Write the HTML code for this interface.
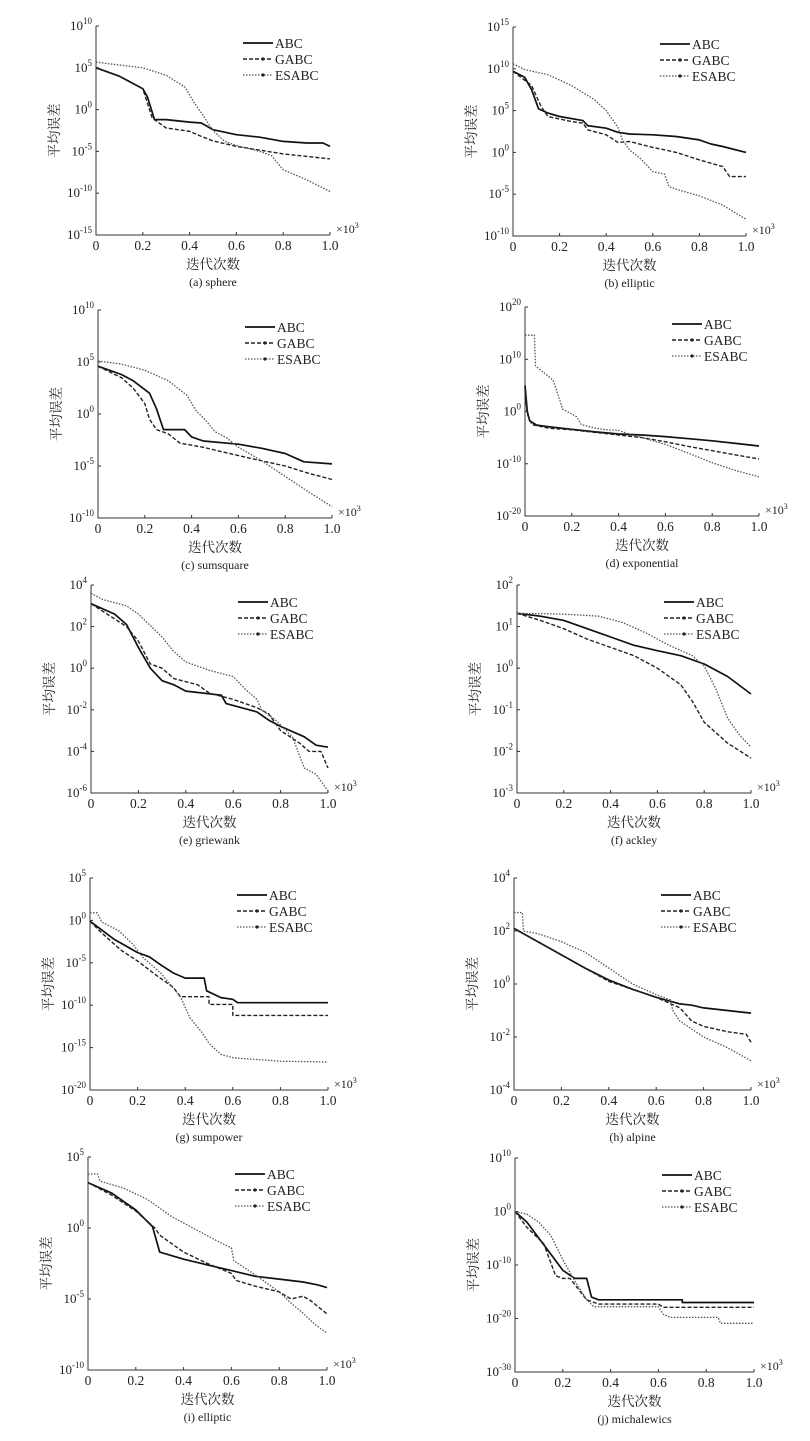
<!DOCTYPE html>
<html><head><meta charset="utf-8">
<style>
html,body{margin:0;padding:0;background:#fff;}
#wrap{position:relative;width:810px;height:1441px;overflow:hidden;}
svg{position:absolute;left:0;top:0;}
text{font-family:"Liberation Serif","Noto Serif CJK SC",serif;fill:#222;}
</style></head>
<body>
<div id="wrap">
<svg id="fig" width="810" height="1441" viewBox="0 0 810 1441"></svg>
</div>
<script>
// ---- data (x in ×10^3 iterations, y as log10 of mean error) ----
const seriesNames = ["ABC","GABC","ESABC"];
const captions = ["(a) sphere","(b) elliptic","(c) sumsquare","(d) exponential","(e) griewank","(f) ackley","(g) sumpower","(h) alpine","(i) elliptic","(j) michalewics"];
const yTickExp = [[10,5,0,-5,-10,-15],[15,10,5,0,-5,-10],[10,5,0,-5,-10],[20,10,0,-10,-20],[4,2,0,-2,-4,-6],[2,1,0,-1,-2,-3],[5,0,-5,-10,-15,-20],[4,2,0,-2,-4],[5,0,-5,-10],[10,0,-10,-20,-30]];
const xTicks = ["0","0.2","0.4","0.6","0.8","1.0"];

const aX_ABC=[0,0.1,0.2,0.22,0.25,0.3,0.4,0.45,0.5,0.6,0.7,0.8,0.9,0.97,1];
const aY_ABC=[5,4,2.5,1.5,-1.2,-1.2,-1.5,-1.6,-2.4,-3,-3.3,-3.8,-4,-4,-4.4];
const aX_GABC=[0,0.1,0.2,0.24,0.26,0.3,0.4,0.45,0.5,0.6,0.8,1];
const aY_GABC=[5,4,2.5,-1,-1.4,-2.2,-2.6,-3.2,-3.75,-4.4,-5.3,-5.9];
const aX_ES=[0,0.05,0.2,0.3,0.38,0.42,0.45,0.5,0.55,0.6,0.7,0.75,0.8,0.9,1];
const aY_ES=[5.7,5.5,5,4.1,2.7,0.8,-0.4,-2.5,-3.8,-4.3,-5,-5.5,-7.2,-8.4,-9.8];

const bX_ABC=[0,0.05,0.08,0.11,0.15,0.2,0.3,0.32,0.4,0.45,0.5,0.6,0.7,0.8,0.85,0.9,1];
const bY_ABC=[9.7,9,7.5,5.2,4.7,4.3,3.8,3.2,2.9,2.4,2.2,2.1,1.9,1.5,1.0,0.7,0];
const bX_GABC=[0,0.08,0.12,0.15,0.25,0.3,0.32,0.4,0.45,0.5,0.6,0.7,0.8,0.9,0.93,1];
const bY_GABC=[9.7,8,5.5,4.3,3.7,3.5,2.7,2.1,1.2,1.3,0.6,0,-0.9,-1.7,-2.9,-2.9];
const bX_ES=[0,0.05,0.15,0.25,0.35,0.4,0.45,0.47,0.5,0.55,0.6,0.65,0.67,0.7,0.8,0.9,1];
const bY_ES=[10.6,9.9,9.3,8,6.3,5,3,1.5,0.3,-0.8,-2.3,-2.6,-4.1,-4.4,-5.2,-6.3,-8];

const cX_ABC=[0,0.1,0.15,0.22,0.25,0.28,0.37,0.4,0.45,0.6,0.7,0.8,0.88,1];
const cY_ABC=[4.6,3.8,3.2,2,0.5,-1.5,-1.5,-2.2,-2.6,-2.9,-3.3,-3.8,-4.6,-4.8];
const cX_GABC=[0,0.1,0.15,0.2,0.22,0.25,0.3,0.35,0.45,0.6,0.7,0.8,0.9,1];
const cY_GABC=[4.6,3.5,2.5,1,-0.5,-1.5,-1.9,-2.8,-3.2,-4,-4.5,-5,-5.7,-6.3];
const cX_ES=[0,0.1,0.2,0.3,0.38,0.42,0.46,0.5,0.55,0.6,0.7,0.8,0.9,1];
const cY_ES=[5.1,4.8,4.2,3.2,1.8,0.3,-0.6,-1.7,-2.3,-3.2,-4.5,-6,-7.5,-8.9];

const dX_ABC=[0,0.01,0.02,0.05,0.1,0.2,0.3,0.4,0.5,0.6,0.7,0.8,0.9,1];
const dY_ABC=[5,0,-1.8,-2.6,-2.9,-3.4,-3.9,-4.3,-4.5,-4.8,-5.2,-5.6,-6.1,-6.6];
const dX_GABC=[0,0.01,0.03,0.1,0.2,0.3,0.4,0.5,0.6,0.7,0.8,0.9,1];
const dY_GABC=[4,-0.5,-2.5,-3.2,-3.5,-4,-4.5,-5,-5.8,-6.7,-7.5,-8.3,-9.1];
const dX_ES=[0,0.04,0.045,0.12,0.15,0.16,0.22,0.24,0.3,0.35,0.4,0.45,0.5,0.6,0.7,0.8,0.9,1];
const dY_ES=[14.6,14.6,8.7,6,2,0.5,-1,-2.5,-3.2,-3.5,-3.6,-4.4,-5,-6.3,-8,-9.8,-11.3,-12.5];

const eX_ABC=[0,0.1,0.15,0.2,0.25,0.3,0.35,0.4,0.55,0.57,0.7,0.75,0.8,0.9,0.95,1];
const eY_ABC=[3.1,2.6,2.1,1.0,0,-0.6,-0.8,-1.1,-1.3,-1.7,-2.1,-2.5,-2.8,-3.3,-3.7,-3.8];
const eX_GABC=[0,0.15,0.2,0.25,0.3,0.35,0.45,0.5,0.6,0.7,0.75,0.8,0.88,0.92,0.97,1];
const eY_GABC=[3.1,2,1.3,0.2,0,-0.5,-0.8,-1.2,-1.5,-1.9,-2.2,-3,-3.6,-4,-4,-4.8];
const eX_ES=[0,0.05,0.15,0.2,0.3,0.35,0.4,0.5,0.6,0.65,0.7,0.72,0.78,0.85,0.9,0.95,1];
const eY_ES=[3.6,3.3,3,2.6,1.5,0.8,0.3,-0.1,-0.4,-1,-1.5,-2,-2.5,-3.3,-4.8,-5.1,-5.9];

const fX_ABC=[0,0.1,0.2,0.3,0.4,0.5,0.6,0.7,0.8,0.9,1];
const fY_ABC=[1.32,1.25,1.15,0.95,0.75,0.55,0.42,0.3,0.1,-0.2,-0.62];
const fX_GABC=[0,0.1,0.2,0.3,0.4,0.5,0.6,0.7,0.75,0.8,0.9,1];
const fY_GABC=[1.32,1.15,0.95,0.7,0.5,0.3,0,-0.4,-0.8,-1.3,-1.8,-2.16];
const fX_ES=[0,0.2,0.35,0.45,0.55,0.65,0.75,0.8,0.85,0.9,0.95,1];
const fY_ES=[1.32,1.3,1.25,1.1,0.85,0.55,0.3,0.05,-0.5,-1.2,-1.6,-1.9];

const gX_ABC=[0,0.1,0.2,0.25,0.3,0.35,0.4,0.48,0.49,0.55,0.6,0.62,1];
const gY_ABC=[-0.1,-2.2,-3.8,-4.3,-5.3,-6.2,-6.8,-6.8,-8.3,-9.1,-9.3,-9.7,-9.7];
const gX_GABC=[0,0.05,0.13,0.2,0.28,0.35,0.38,0.5,0.5,0.6,0.6,1];
const gY_GABC=[-0.1,-1.5,-3.5,-4.8,-6.5,-7.9,-9,-9,-9.9,-9.9,-11.2,-11.2];
const gX_ES=[0,0.03,0.05,0.12,0.18,0.22,0.3,0.38,0.42,0.47,0.5,0.55,0.6,0.7,0.8,1];
const gY_ES=[0.9,0.9,-0.2,-1.2,-2.8,-4.3,-6.3,-9,-11.5,-13.2,-14.5,-15.8,-16.2,-16.4,-16.6,-16.7];

const hX_ABC=[0,0.1,0.2,0.3,0.4,0.5,0.6,0.7,0.75,0.8,0.9,1];
const hY_ABC=[2.1,1.6,1.1,0.6,0.15,-0.2,-0.5,-0.75,-0.8,-0.9,-1,-1.1];
const hX_GABC=[0,0.2,0.4,0.5,0.6,0.7,0.75,0.8,0.9,0.98,1];
const hY_GABC=[2.1,1.1,0.1,-0.2,-0.5,-0.9,-1.4,-1.6,-1.8,-1.9,-2.2];
const hX_ES=[0,0.035,0.04,0.1,0.2,0.3,0.4,0.5,0.6,0.66,0.67,0.7,0.8,0.9,1];
const hY_ES=[2.7,2.7,2.0,1.9,1.6,1.2,0.6,0,-0.4,-0.6,-1,-1.4,-2,-2.4,-2.9];

const iX_ABC=[0,0.1,0.2,0.27,0.3,0.4,0.5,0.6,0.7,0.8,0.9,0.96,1];
const iY_ABC=[3.2,2.45,1.27,0.1,-1.7,-2.2,-2.6,-3.0,-3.4,-3.6,-3.8,-4.0,-4.2];
const iX_GABC=[0,0.1,0.2,0.28,0.3,0.4,0.5,0.6,0.62,0.7,0.8,0.85,0.9,0.93,1];
const iY_GABC=[3.2,2.3,1.2,0,-0.5,-1.7,-2.5,-3.2,-3.7,-4.1,-4.5,-5,-4.8,-5.1,-6.05];
const iX_ES=[0,0.04,0.05,0.15,0.25,0.35,0.45,0.55,0.6,0.61,0.7,0.8,0.85,0.9,0.95,1];
const iY_ES=[3.8,3.8,3.3,2.8,2.0,0.8,-0.1,-1.0,-1.4,-2.3,-3.3,-4.5,-5.3,-6,-6.8,-7.4];

const jX_ABC=[0,0.05,0.1,0.15,0.2,0.25,0.3,0.32,0.35,0.7,0.7,1];
const jY_ABC=[0,-2,-5,-8,-11,-12.5,-12.5,-16,-16.5,-16.5,-17,-17];
const jX_GABC=[0,0.05,0.12,0.17,0.2,0.23,0.3,0.35,0.6,0.62,1];
const jY_GABC=[0,-3,-6,-12,-12.5,-12.5,-16.5,-17.3,-17.3,-17.9,-17.9];
const jX_ES=[0,0.05,0.1,0.15,0.2,0.25,0.3,0.33,0.6,0.62,0.65,0.85,0.86,1];
const jY_ES=[0,-0.5,-2,-4.5,-9,-13,-16.5,-17.8,-17.8,-19.2,-19.8,-19.8,-20.9,-20.9];

const panelSeries = [
 [[aX_ABC,aY_ABC],[aX_GABC,aY_GABC],[aX_ES,aY_ES]],
 [[bX_ABC,bY_ABC],[bX_GABC,bY_GABC],[bX_ES,bY_ES]],
 [[cX_ABC,cY_ABC],[cX_GABC,cY_GABC],[cX_ES,cY_ES]],
 [[dX_ABC,dY_ABC],[dX_GABC,dY_GABC],[dX_ES,dY_ES]],
 [[eX_ABC,eY_ABC],[eX_GABC,eY_GABC],[eX_ES,eY_ES]],
 [[fX_ABC,fY_ABC],[fX_GABC,fY_GABC],[fX_ES,fY_ES]],
 [[gX_ABC,gY_ABC],[gX_GABC,gY_GABC],[gX_ES,gY_ES]],
 [[hX_ABC,hY_ABC],[hX_GABC,hY_GABC],[hX_ES,hY_ES]],
 [[iX_ABC,iY_ABC],[iX_GABC,iY_GABC],[iX_ES,iY_ES]],
 [[jX_ABC,jY_ABC],[jX_GABC,jY_GABC],[jX_ES,jY_ES]]
];

// ---- layout: plot boxes [x0, x1, yTop, yBottom] ----
const boxes = [[96,330,26,235],[513,746,27,236],[98,332,310,518],[525,759,307,516],[91,328,585,793],[517,751,585,793],[90,328,878,1090],[514,751,878,1090],[88,327,1157,1370],[515,754,1158,1372]];

const NS="http://www.w3.org/2000/svg";
const svg=document.getElementById('fig');
function mk(tag,attrs,parent){const e=document.createElementNS(NS,tag);for(const k in attrs)e.setAttribute(k,attrs[k]);(parent||svg).appendChild(e);return e;}
const styles=[{stroke:"#111",w:1.7,dash:null},{stroke:"#222",w:1.4,dash:"4,2"},{stroke:"#555",w:1.3,dash:"1.5,1.5"}];

boxes.forEach((b,pi)=>{
  const [x0,x1,yt,yb]=b;
  const ticks=yTickExp[pi];
  const ymax=ticks[0], ymin=ticks[ticks.length-1];
  const sx=v=>x0+v*(x1-x0);
  const sy=v=>yt+(ymax-v)/(ymax-ymin)*(yb-yt);
  const g=mk('g',{});
  
  
  const ax=mk('path',{d:`M${x0},${yt}V${yb}H${x1}`,fill:'none',stroke:'#333','stroke-width':1},g);
  
  
  ticks.forEach(t=>{
    const y=sy(t);
    mk('line',{x1:x0,x2:x0+3,y1:y,y2:y,stroke:'#333','stroke-width':1},g);
    const tx=mk('text',{x:x0-4,y:y+4,'text-anchor':'end','font-size':13},g);
    
    
    tx.textContent='10';
    const sp=mk('tspan',{dy:-6,'font-size':9},tx); sp.textContent=String(t);
  });
  xTicks.forEach(l=>{
    const x=sx(parseFloat(l));
    mk('line',{x1:x,x2:x,y1:yb,y2:yb-3,stroke:'#333','stroke-width':1},g);
    const tx=mk('text',{x:x,y:yb+15,'text-anchor':'middle','font-size':13.5},g);
    
    
    tx.textContent=l;
  });
  const mul=mk('text',{x:x1+6,y:yb-2,'font-size':12},g);
  
  
  mul.textContent='×10';
  const ms=mk('tspan',{dy:-5,'font-size':8},mul); ms.textContent='3';
  const xt=mk('text',{x:(x0+x1)/2,y:yb+34,'text-anchor':'middle','font-size':13.5},g);
  
  
  xt.textContent='迭代次数';
  const cp=mk('text',{x:(x0+x1)/2,y:yb+51,'text-anchor':'middle','font-size':12},g);
  
  
  cp.textContent=captions[pi];
  const cy=(yt+yb)/2;
  const yt2=mk('text',{x:x0-37,y:cy,'text-anchor':'middle','font-size':13.5,transform:`rotate(-90 ${x0-37} ${cy})`},g);
  
  
  yt2.textContent='平均误差';
  panelSeries[pi].forEach((s,si)=>{
    const [xs,ys]=s;
    const pts=xs.map((v,i)=>sx(v).toFixed(1)+','+sy(ys[i]).toFixed(1)).join(' ');
    const st=styles[si];
    const pl=mk('polyline',{points:pts,fill:'none',stroke:st.stroke,'stroke-width':st.w,'stroke-linejoin':'round'},g);
    if(st.dash)pl.setAttribute('stroke-dasharray',st.dash);
    
    
    const ly=yt+17+si*16;
    const lx=x0+147;
    const ll=mk('line',{x1:lx,x2:lx+30,y1:ly,y2:ly,stroke:st.stroke,'stroke-width':st.w},g);
    if(st.dash)ll.setAttribute('stroke-dasharray',st.dash);
    
    
    if(si>0)mk('circle',{cx:lx+20,cy:ly,r:1.6,fill:'#222'},g);
    const lt=mk('text',{x:lx+32,y:ly+5,'font-size':13.5},g);
    
    
    lt.textContent=seriesNames[si];
  });
});
</script>
</body></html>
